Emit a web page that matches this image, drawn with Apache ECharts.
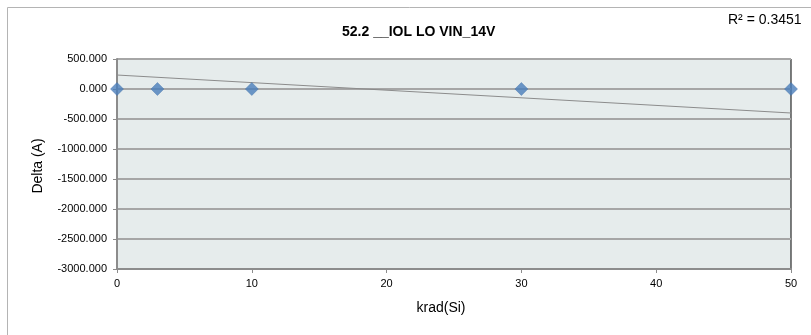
<!DOCTYPE html>
<html><head><meta charset="utf-8">
<script src="https://cdn.jsdelivr.net/npm/echarts@6/dist/echarts.min.js"></script>
<style>html,body{margin:0;padding:0;background:#fff;}#c{width:811px;height:335px;}</style>
</head><body><div id="c"></div>
<script>
const titleText = "52.2 __IOL LO VIN_14V";
const r2Text = "R² = 0.3451";
const xName = "krad(Si)";
const yName = "Delta (A)";
const doseX = [0, 3, 10, 30, 50];
const deltaY = [0, 0, 0, 0, 0];
const trendX = [0, 50];
const trendY = [233, -400];

const font = "'Liberation Sans',Arial,sans-serif";
const chart = echarts.init(document.getElementById('c'), null, {renderer: 'canvas'});
chart.setOption({
  animation: false,
  backgroundColor: '#fff',
  graphic: [
    {type: 'rect', shape: {x: 7.5, y: 7.5, width: 900, height: 400}, style: {fill: 'none', stroke: '#B4B4B4', lineWidth: 1}, z: -1},
    {type: 'text', x: 728, y: 13, style: {text: r2Text, font: '14px ' + font, fill: '#000'}},
    {type: 'text', x: 441, y: 308, style: {text: xName, font: '14px ' + font, fill: '#000', align: 'center', verticalAlign: 'middle'}},
    {type: 'text', x: 38, y: 166, rotation: Math.PI / 2, style: {text: yName, font: '14px ' + font, fill: '#000', align: 'center', verticalAlign: 'middle'}}
  ],
  title: {
    text: titleText, left: 337, top: 20,
    textStyle: {fontFamily: font, fontSize: 14, fontWeight: 'bold', color: '#000'}
  },
  grid: {left: 117, right: 20, top: 59, bottom: 66, show: true, backgroundColor: '#E6ECEC', borderColor: '#000', borderWidth: 1},
  xAxis: {
    type: 'value', min: 0, max: 50, interval: 10,
    axisLine: {show: true, onZero: false, lineStyle: {color: '#8C8C8C', width: 2}},
    axisTick: {show: true, length: 4, inside: false, lineStyle: {color: '#8C8C8C'}},
    axisLabel: {fontFamily: font, fontSize: 11, color: '#000', margin: 9},
    splitLine: {show: false}
  },
  yAxis: {
    type: 'value', min: -3000, max: 500, interval: 500,
    axisLine: {show: true, lineStyle: {color: '#8C8C8C', width: 2}},
    axisTick: {show: true, length: 4, lineStyle: {color: '#8C8C8C'}},
    axisLabel: {fontFamily: font, fontSize: 11, color: '#000', margin: 10, formatter: v => v.toFixed(3)},
    splitLine: {show: true, lineStyle: {color: '#A6A6A6', width: 2}}
  },
  series: [
    {type: 'line', data: trendX.map((x, i) => [x, trendY[i]]), symbol: 'none', lineStyle: {color: '#8C8C8C', width: 1}, z: 2},
    {type: 'scatter', data: doseX.map((x, i) => [x, deltaY[i]]), symbol: 'diamond', symbolSize: [13, 13],
     itemStyle: {color: '#4A7EBB', borderColor: '#3F6FA8', borderWidth: 0.5}, z: 3}
  ]
});
</script></body></html>
